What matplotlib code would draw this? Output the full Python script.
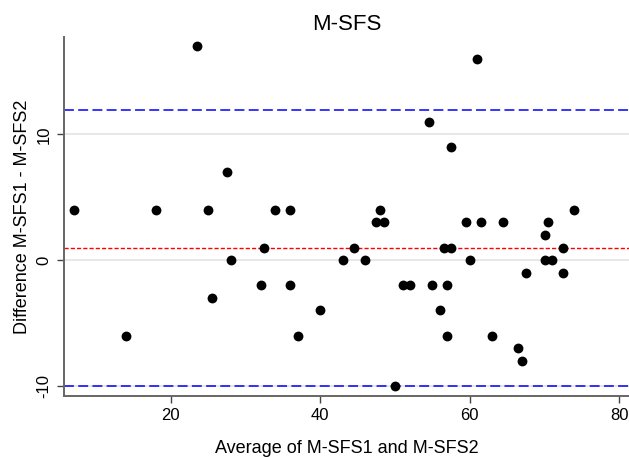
import matplotlib
matplotlib.use('Agg')
import matplotlib.pyplot as plt

plt.rcParams['font.family'] = ['Liberation Sans', 'DejaVu Sans']
plt.rcParams['axes.unicode_minus'] = False

# Bland-Altman points: average of the two scores and their difference
avg = [7.0, 14.0, 18.0, 23.5, 25.0, 25.5, 27.5, 28.0, 32.0, 32.5,
       34.0, 36.0, 36.0, 37.0, 40.0, 43.0, 44.5, 46.0, 47.5, 48.0,
       48.5, 50.0, 51.0, 52.0, 54.5, 55.0, 56.0, 56.5, 57.0, 57.0,
       57.5, 57.5, 61.0, 59.5, 60.0, 61.5, 63.0, 64.5, 66.5, 67.0,
       67.5, 70.0, 70.0, 70.5, 71.0, 72.5, 72.5, 74.0]
diff = [4, -6, 4, 17, 4, -3, 7, 0, -2, 1,
        4, 4, -2, -6, -4, 0, 1, 0, 3, 4,
        3, -10, -2, -2, 11, -2, -4, 1, -2, -6,
        9, 1, 16, 3, 0, 3, -6, 3, -7, -8,
        -1, 2, 0, 3, 0, 1, -1, 4]

mean_diff = 0.98
upper_loa = 11.93
lower_loa = -9.97

xticks = [20, 40, 60, 80]
yticks = [-10, 0, 10]

fig = plt.figure(figsize=(6.29, 4.57), dpi=100, facecolor='white')
ax = fig.add_axes([0.1017, 0.1335, 0.8983, 0.786])

for y in yticks:
    ax.axhline(y, color='#e3e3e3', lw=1.2, zorder=1)

ax.axhline(upper_loa, color='#0000ff', lw=1.1, dashes=(6.5, 2.8), zorder=2)
ax.axhline(lower_loa, color='#0000ff', lw=1.1, dashes=(6.5, 2.8), zorder=2)
ax.axhline(mean_diff, color='#ff0000', lw=1.0, dashes=(3, 1.5), zorder=2)

ax.scatter(avg, diff, s=50, color='black', zorder=3, linewidths=0)

ax.set_xlim(5.7, 81.3)
ax.set_ylim(-10.8, 17.75)
ax.set_xticks(xticks)
ax.set_yticks(yticks)

for s in ['top', 'right']:
    ax.spines[s].set_visible(False)
for s in ['left', 'bottom']:
    ax.spines[s].set_color('#666666')
    ax.spines[s].set_linewidth(1.4)

ax.tick_params(axis='both', length=5, width=1, color='#444444', labelsize=12, pad=4)
plt.setp(ax.get_yticklabels(), rotation=90, va='center')

ax.set_title('M-SFS', fontsize=16, pad=5)
ax.set_xlabel('Average of M-SFS1 and M-SFS2', fontsize=13, labelpad=12)
ax.set_ylabel('Difference M-SFS1 - M-SFS2', fontsize=13, labelpad=4)

fig.savefig('out.png', dpi=100, facecolor='white')
